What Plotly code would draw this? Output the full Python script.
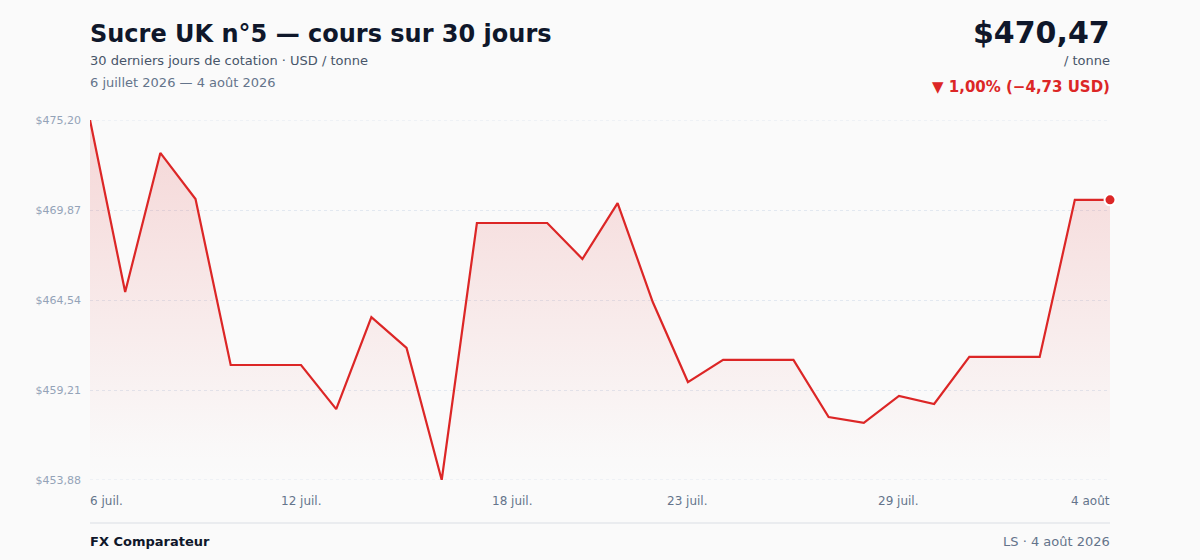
import plotly.graph_objects as go
import pandas as pd

dates = pd.date_range("2026-07-06", "2026-08-04", freq="D").strftime("%Y-%m-%d").tolist()
prices = [475.20, 465.01, 473.25, 470.52, 460.69, 460.69, 460.69, 458.08, 463.53, 461.70,
          453.88, 469.10, 469.10, 469.10, 466.97, 470.28, 464.42, 459.68, 460.99, 460.99,
          460.99, 457.61, 457.26, 458.86, 458.38, 461.17, 461.17, 461.17, 470.47, 470.47]
ytick_vals = [453.88, 459.21, 464.54, 469.87, 475.20]
xtick_dates = ["2026-07-06", "2026-07-12", "2026-07-18", "2026-07-23", "2026-07-29", "2026-08-04"]
xtick_labels = ["6 juil.", "12 juil.", "18 juil.", "23 juil.", "29 juil.", "4 août"]

RED = "#dc2626"
FONT = "DejaVu Sans"
BG = "#fafafa"
GRID = "#e2e8f0"

def fr(v):
    return f"${v:,.2f}".replace(",", " ").replace(".", ",")

ymin, ymax = min(prices), max(prices)
last = prices[-1]
first = prices[0]
chg = last - first
pct = chg / first * 100

fig = go.Figure()
fig.add_trace(go.Scatter(x=dates, y=[ymin] * len(dates), mode="lines",
                         line=dict(width=0), hoverinfo="skip", showlegend=False))
fig.add_trace(go.Scatter(
    x=dates, y=prices, mode="lines", fill="tonexty",
    line=dict(color=RED, width=2.2),
    fillgradient=dict(type="vertical",
                      colorscale=[[0, "rgba(220,38,38,0)"], [0.1, "rgba(220,38,38,0.01)"],
                                  [1, "rgba(220,38,38,0.17)"]],
                      start=ymin, stop=ymax),
    showlegend=False))
fig.add_trace(go.Scatter(x=[dates[-1]], y=[last], mode="markers",
                         marker=dict(color=RED, size=11, line=dict(color="white", width=2)),
                         showlegend=False, cliponaxis=False))

fig.update_xaxes(range=[dates[0], dates[-1]], showgrid=False, showticklabels=False,
                 zeroline=False, showline=False)
fig.update_yaxes(range=[ymin, ymax], tickvals=ytick_vals, ticktext=[fr(v) for v in ytick_vals],
                 showgrid=True, gridcolor=GRID, griddash="dot", gridwidth=1,
                 zeroline=False, showline=False, ticklabelstandoff=8,
                 tickfont=dict(family=FONT, size=11, color="#94a3b8"))

annotations = []
for i, (d, t) in enumerate(zip(xtick_dates, xtick_labels)):
    xa = "left" if i == 0 else ("right" if i == len(xtick_dates) - 1 else "center")
    xs = -2 if xa == "left" else (2 if xa == "right" else 0)
    annotations.append(dict(x=d, y=0, xref="x", yref="paper", text=t, showarrow=False,
                            xanchor=xa, yanchor="top", yshift=-12, xshift=xs,
                            font=dict(family=FONT, size=12, color="#64748b")))

def txt(x, y, text, size, color, xa="left", bold=False):
    if bold:
        text = f"<b>{text}</b>"
    return dict(x=x, y=y, xref="paper", yref="paper", text=text, showarrow=False,
                xanchor=xa, yanchor="middle", xshift=-2 if xa == "left" else 2,
                font=dict(family=FONT, size=size, color=color))

H = 560 - 120 - 80
def py(pix):
    return (480 - pix) / H

annotations += [
    txt(0, py(34), "Sucre UK n°5 — cours sur 30 jours", 24, "#0f172a", bold=True),
    txt(0, py(61), "30 derniers jours de cotation · USD / tonne", 13, "#475569"),
    txt(0, py(83), "6 juillet 2026 — 4 août 2026", 13, "#64748b"),
    txt(1, py(33), fr(last), 30, "#0f172a", xa="right", bold=True),
    txt(1, py(61), "/ tonne", 13, "#475569", xa="right"),
    txt(1, py(87), f"▼ {abs(pct):.2f}% (−{abs(chg):.2f} USD)".replace(".", ","), 15, RED,
        xa="right", bold=True),
    txt(0, py(541), "FX Comparateur", 13, "#0f172a", bold=True),
    txt(1, py(541), "LS · 4 août 2026", 13, "#64748b", xa="right"),
]

shapes = [dict(type="line", xref="paper", yref="paper", x0=0, x1=1, y0=py(523), y1=py(523),
               line=dict(color="#e5e7eb", width=1.5))]
for v in (ymin, ymax):
    shapes.append(dict(type="line", xref="paper", yref="y", x0=0, x1=1, y0=v, y1=v,
                       layer="below", line=dict(color=GRID, width=1, dash="dot")))

fig.update_layout(
    width=1200, height=560,
    margin=dict(l=90, r=90, t=120, b=80),
    paper_bgcolor=BG, plot_bgcolor=BG,
    annotations=annotations,
    shapes=shapes,
    font=dict(family=FONT),
)

fig.write_html("out.html", config={"displayModeBar": False},
               post_script="document.body.style.margin='0';document.body.style.background='%s';" % BG)
